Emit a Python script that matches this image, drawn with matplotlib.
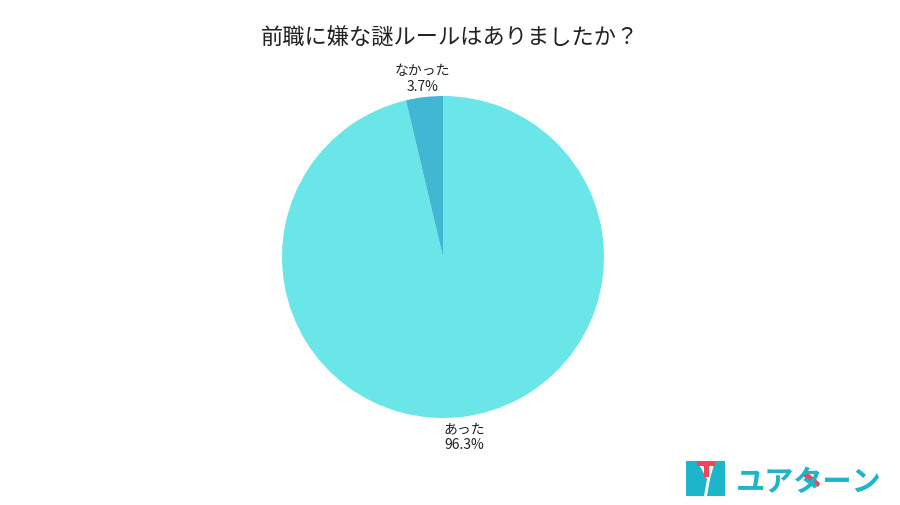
import matplotlib
matplotlib.use('Agg')
from matplotlib import pyplot as plt
from matplotlib.patches import Polygon
from matplotlib.lines import Line2D

plt.rcParams['font.family'] = ['Noto Sans CJK JP', 'DejaVu Sans']

title = '前職に嫌な謎ルールはありましたか？'
labels = ['あった', 'なかった']
values = [96.3, 3.7]
colors = ['#6be6e8', '#42b7d4']

W, H = 900, 506
fig = plt.figure(figsize=(9, 5.06), dpi=100)
fig.patch.set_facecolor('white')

def fx(x):
    return x / W

def fy(y):
    return 1 - y / H

# pie: center ~ (443, 258), radius ~ 161 px
ax = fig.add_axes([fx(443 - 161), fy(258 + 161), 322 / W, 322 / H])
wedges, texts = ax.pie(values, colors=colors, startangle=90, counterclock=False,
                       labels=[f'{l}\n{v}%' for l, v in zip(labels, values)],
                       labeldistance=1.12,
                       textprops={'fontsize': 10, 'color': '#222222', 'linespacing': 1.2},
                       wedgeprops={'linewidth': 0})
for t in texts:
    t.set_ha('center')
    t.set_clip_on(False)
ax.set_xlim(-1, 1)
ax.set_ylim(-1, 1)
ax.set_aspect('equal')

fig.text(fx(450), fy(38), title, ha='center', va='center', fontsize=16, color='#222222')

# logo
teal = '#1cb5c9'
red = '#f0455a'
tf = fig.transFigure
def poly(pts, c):
    fig.patches.append(Polygon([(fx(x), fy(y)) for x, y in pts], transform=tf, color=c, lw=0))

poly([(686, 462), (697, 462), (707, 480), (704, 497), (686, 497)], teal)
poly([(715, 462), (725, 462), (725, 497), (707, 497), (710, 480)], teal)
poly([(697, 462), (715, 462), (715, 467), (697, 467)], red)
poly([(704, 467), (709, 467), (709, 478), (704, 478)], red)

fig.text(fx(736), fy(482), 'ユアターン', ha='left', va='center', fontsize=21,
         fontweight='bold', color=teal)
fig.lines.append(Line2D([fx(806), fx(817)], [fy(476), fy(485)], transform=tf,
                        color=red, lw=4, solid_capstyle='round'))

fig.savefig('out.png', dpi=100)
